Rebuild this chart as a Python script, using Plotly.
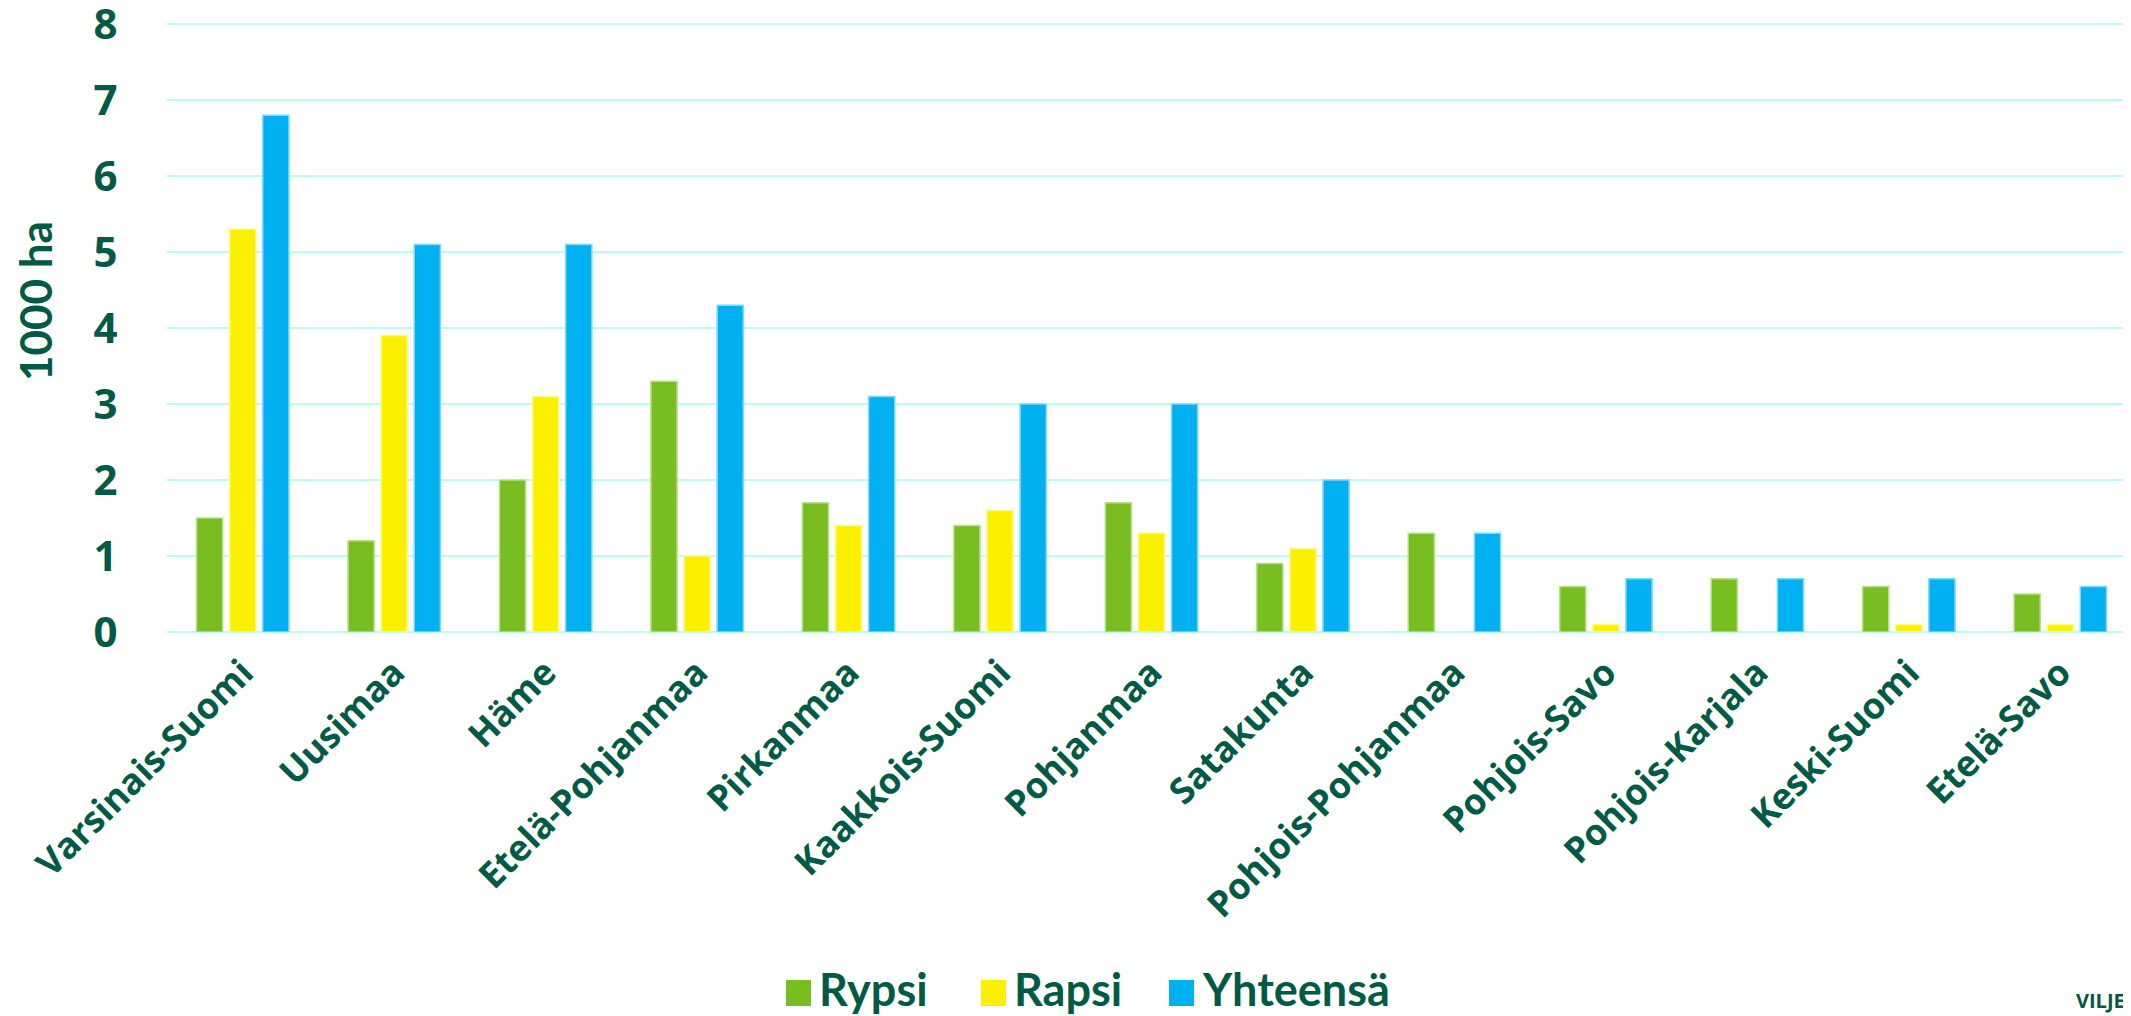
import plotly.graph_objects as go

# ---- data ----
regions = ["Varsinais-Suomi", "Uusimaa", "Häme", "Etelä-Pohjanmaa", "Pirkanmaa",
           "Kaakkois-Suomi", "Pohjanmaa", "Satakunta", "Pohjois-Pohjanmaa",
           "Pohjois-Savo", "Pohjois-Karjala", "Keski-Suomi", "Etelä-Savo"]
rypsi = [1.5, 1.2, 2.0, 3.3, 1.7, 1.4, 1.7, 0.9, 1.3, 0.6, 0.7, 0.6, 0.5]
rapsi = [5.3, 3.9, 3.1, 1.0, 1.4, 1.6, 1.3, 1.1, None, 0.1, None, 0.1, 0.1]
yhteensa = [6.8, 5.1, 5.1, 4.3, 3.1, 3.0, 3.0, 2.0, 1.3, 0.7, 0.7, 0.7, 0.6]
series_names = ["Rypsi", "Rapsi", "Yhteensä"]
y_ticks = [0, 1, 2, 3, 4, 5, 6, 7, 8]

# ---- style ----
GREEN = "#78BE20"
YELLOW = "#FAF000"
BLUE = "#00B0F0"
TEXT = "#005A45"
GRID = "#BFFCEF"
OFF = 8                      # page body margin of the html page
W, H = 2128, 1008
L, R, T, B = 159, 0, 14, 384
PW, PH = W - L - R, H - T - B
Y_TOP = 8 * PH / (PH - 2)


def px(x):  # page pixel -> paper coordinate
    return (x - OFF - L) / PW


def py(y):
    return (H - B - (y - OFF)) / PH


fig = go.Figure()
for name, vals, col, edge in [(series_names[0], rypsi, GREEN, "#B8E08A"),
                              (series_names[1], rapsi, YELLOW, "#FFF98A"),
                              (series_names[2], yhteensa, BLUE, "#7FD8F8")]:
    fig.add_trace(go.Bar(x=regions, y=vals, name=name, marker_color=col,
                         marker_line=dict(color=edge, width=1.5),
                         showlegend=False))

fig.update_layout(
    width=W, height=H, autosize=False,
    margin=dict(l=L, r=R, t=T, b=B, pad=0),
    plot_bgcolor="white", paper_bgcolor="white",
    barmode="group", bargap=0.344, bargroupgap=0.21,
)
fig.update_yaxes(range=[0, Y_TOP], tickvals=y_ticks, showgrid=True, gridcolor=GRID,
                 gridwidth=2, zeroline=True, zerolinecolor=GRID, zerolinewidth=2,
                 showline=False, ticks="outside", ticklen=40, automargin=False,
                 ticklabeloverflow="allow",
                 tickcolor="rgba(0,0,0,0)",
                 tickfont=dict(family="Open Sans", size=42, color=TEXT, weight="bold"))
fig.update_xaxes(tickangle=-45, showgrid=False, showline=False, ticks="outside",
                 ticklen=4, tickcolor="rgba(0,0,0,0)", automargin=False,
                 tickfont=dict(family="Open Sans", size=36, color=TEXT, weight="bold"))

# y-axis title
fig.add_annotation(text="1000 ha", textangle=-90, xref="paper", yref="paper",
                   x=px(35), y=py(301), showarrow=False, xanchor="center", yanchor="middle",
                   font=dict(family="Lato", size=44, color=TEXT, weight="bold"))

# custom legend
legend_items = [(series_names[0], GREEN, 786), (series_names[1], YELLOW, 981), (series_names[2], BLUE, 1169)]
for name, col, x0 in legend_items:
    fig.add_shape(type="rect", xref="paper", yref="paper",
                  x0=px(x0), x1=px(x0 + 25), y0=py(1006), y1=py(980),
                  fillcolor=col, line=dict(width=0))
    fig.add_annotation(text=name, xref="paper", yref="paper", x=px(x0 + 31), y=py(989),
                       xanchor="left", yanchor="middle", showarrow=False,
                       font=dict(family="Lato", size=45, color=TEXT, weight="bold"))

# logo text
fig.add_annotation(text="VILJE", xref="paper", yref="paper", x=px(2074), y=py(1016),
                   xanchor="left", yanchor="bottom", showarrow=False,
                   font=dict(family="Open Sans", size=20, color=TEXT, weight="bold"))

fig.write_html("out.html")
